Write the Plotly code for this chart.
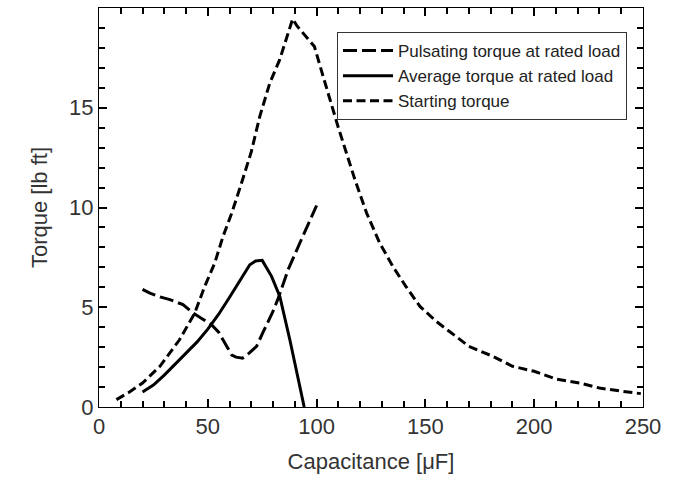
import plotly.graph_objects as go

# Capacitance [uF] vs torque [lb ft]
pulsating_c = [20, 23.4, 28, 32.6, 38.6, 43.2, 47, 51.7, 55, 58, 61, 63, 66, 69, 72.4, 75.4, 80, 82.4, 86.9, 92.3, 96, 100]
pulsating_t = [5.9, 5.71, 5.52, 5.38, 5.13, 4.71, 4.45, 4.13, 3.75, 3.2, 2.6, 2.5, 2.45, 2.7, 3.04, 3.75, 4.8, 5.46, 6.88, 8.22, 9.1, 10.1]

average_c = [20, 25, 30, 35, 40, 45, 50, 55, 60, 65, 69.3, 72, 75, 79.3, 83.1, 87.7, 92.3, 94.3]
average_t = [0.75, 1.1, 1.6, 2.15, 2.65, 3.25, 3.9, 4.65, 5.5, 6.4, 7.13, 7.32, 7.35, 6.55, 5.54, 3.37, 1.03, 0.0]

starting_c = [8, 14, 20, 28, 37, 44, 48.6, 53.2, 57, 61, 65.5, 70, 73.9, 78.5, 83, 89, 91, 95, 99, 103, 110,
              117.6, 123, 129, 135, 141, 147.5, 155, 163, 170, 181, 190, 200, 210, 221, 230, 241, 249]
starting_t = [0.37, 0.75, 1.2, 2.04, 3.37, 4.71, 6.05, 7.22, 8.55, 9.72, 11.23, 12.8, 14.57, 16.24, 17.4, 19.45, 19.1, 18.6, 18.07, 16.57, 14.0,
              11.4, 9.72, 8.22, 7.05, 6.05, 5.04, 4.29, 3.62, 3.04, 2.54, 2.04, 1.79, 1.4, 1.2, 0.95, 0.78, 0.67]

x_ticks = [0, 50, 100, 150, 200, 250]
y_ticks = [0, 5, 10, 15, 20]
x_minor_step = 10
y_minor_step = 1

series = [
    ("Pulsating torque at rated load", pulsating_c, pulsating_t, "14px,5px", 3),
    ("Average torque at rated load", average_c, average_t, "solid", 3),
    ("Starting torque", starting_c, starting_t, "9px,4.5px", 3),
]

FONT = "Liberation Sans, Arial, sans-serif"
TEXT_COLOR = "#333333"
W, H = 690, 488
ML, MR, MT, MB = 99, 47, 8, 81
PW, PH = W - ML - MR, H - MT - MB

fig = go.Figure()
for name, xs, ys, dash, width in series:
    fig.add_trace(go.Scatter(
        x=xs, y=ys, mode="lines", name=name,
        line=dict(color="black", width=width, dash=dash),
    ))

fig.update_xaxes(
    range=[x_ticks[0], x_ticks[-1]], tick0=x_ticks[0], dtick=x_ticks[1] - x_ticks[0],
    showline=True, linecolor="black", mirror="ticks",
    ticks="inside", ticklen=8, tickwidth=2, tickcolor="black",
    minor=dict(dtick=x_minor_step, ticks="inside", ticklen=6, tickwidth=2, tickcolor="black"),
    tickfont=dict(family=FONT, size=22, color=TEXT_COLOR),
    title=dict(text="Capacitance [\u03bcF]", font=dict(family=FONT, size=22, color=TEXT_COLOR)),
)
fig.update_yaxes(
    range=[y_ticks[0], y_ticks[-1]], tick0=y_ticks[0], dtick=y_ticks[1] - y_ticks[0],
    showline=True, linecolor="black", mirror="ticks",
    ticks="inside", ticklen=8, tickwidth=2, tickcolor="black",
    minor=dict(dtick=y_minor_step, ticks="inside", ticklen=6, tickwidth=2, tickcolor="black"),
    tickfont=dict(family=FONT, size=22, color=TEXT_COLOR),
    title=dict(text="Torque [lb ft]", font=dict(family=FONT, size=22, color=TEXT_COLOR)),
)

fig.update_layout(
    width=W, height=H,
    margin=dict(l=ML, r=MR, t=MT, b=MB),
    paper_bgcolor="white", plot_bgcolor="white",
    showlegend=True,
    legend=dict(
        x=(337 - ML) / PW, y=(H - MB - 32) / PH, xanchor="left", yanchor="top",
        bgcolor="white", bordercolor="#333333", borderwidth=1,
        font=dict(family=FONT, size=17, color="#222222"),
        itemwidth=50, tracegroupgap=0,
    ),
)

fig.write_html("out.html")
